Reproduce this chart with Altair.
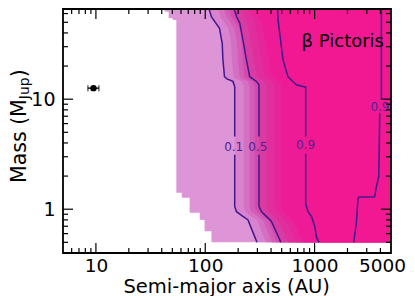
import altair as alt
import pandas as pd

# ---------------- data ----------------
X_DOMAIN = [5, 5000]          # semi-major axis (AU)
Y_DOMAIN = [0.4, 66]          # mass (M_Jup)

X_LABELS = [10, 100, 1000, 5000]
Y_LABELS = [1, 10]
X_MAJOR = [10, 100, 1000]
X_MINOR = [6, 7, 8, 9, 20, 30, 40, 50, 60, 70, 80, 90,
           200, 300, 400, 500, 600, 700, 800, 900, 2000, 3000, 4000]
Y_MAJOR = [1, 10]
Y_MINOR = [0.5, 0.6, 0.7, 0.8, 0.9, 2, 3, 4, 5, 6, 7, 8, 9, 20, 30, 40, 50, 60]

# left edge of the explored region (stepped)
EDGE_A = [114, 114, 98.5, 98.5, 89, 89, 72, 72, 61, 61, 54.4, 54.4, 50.3, 50.3, 46.3, 46.3, 42.5, 42.5]
EDGE_M = [0.5, 0.629, 0.631, 0.799, 0.801, 0.929, 0.931, 1.269, 1.271, 1.409, 1.411,
          52.5, 52.7, 54.4, 54.6, 62.4, 62.6, 80]

# labelled contours
C01_A = [297, 264, 246, 221, 193, 186, 186, 186, 186, 179, 158, 150, 145, 143, 135, 114, 102]
C01_M = [0.5, 0.67, 0.8, 0.86, 0.95, 1.06, 3.12, 4.57, 13, 14.5, 15.3, 16, 23, 32, 44, 56, 80]
C05_A = [490, 479, 431, 402, 362, 326, 310, 310, 310, 310, 294, 255, 238, 221, 207, 193, 173]
C05_M = [0.5, 0.53, 0.67, 0.78, 0.86, 0.95, 1.06, 3.12, 4.57, 13.5, 14.5, 16, 22.8, 34.6, 49, 56.4, 80]
C09_A = [1096, 1039, 1003, 936, 871, 829, 829, 829, 829, 681, 571, 514, 480, 463, 457]
C09_M = [0.5, 0.56, 0.7, 0.86, 0.95, 1.13, 3.2, 4.57, 12.85, 13.5, 16, 22.8, 39.8, 52.6, 80]
C09R_A = [2280, 2412, 2497, 2587, 3548, 3677, 3862, 3944, 4083, 4083]
C09R_M = [0.5, 0.75, 1.26, 1.29, 1.30, 1.6, 1.98, 7.46, 9.86, 80]

# unlabelled filled-contour levels
P0X_M = [0.5, 0.67, 0.8, 0.86, 0.95, 1.06, 13, 14.5, 15.3, 16, 23, 32, 44, 56, 80]
P02_A = [359, 319, 298, 267, 234, 225, 225, 217, 191, 182, 175, 173, 163, 138, 123]
P03_A = [407, 362, 337, 303, 264, 255, 255, 245, 216, 206, 199, 196, 185, 156, 140]
P04_A = [451, 401, 374, 336, 293, 283, 283, 272, 240, 228, 220, 217, 205, 173, 155]
P1X_M = [0.5, 0.53, 0.67, 0.78, 0.86, 0.95, 1.06, 13.5, 14.5, 16, 22.8, 34.6, 49, 56.4, 80]
P06_A = [573, 560, 504, 470, 424, 381, 363, 363, 344, 298, 278, 259, 242, 226, 202]
P07_A = [676, 661, 595, 555, 500, 450, 428, 428, 406, 352, 328, 305, 286, 266, 239]
P08_A = [784, 766, 690, 643, 579, 522, 496, 496, 470, 408, 381, 354, 331, 309, 277]

BAND_COLORS = ["#de95d7", "#d982cd", "#d56fc4", "#d45cb8", "#d64aab",
               "#da3ba2", "#e02e9d", "#e72499", "#ed1c96", "#f21892"]

LABEL_TEXT = ["0.1", "0.5", "0.9", "0.9"]
LABEL_A = [182, 303, 826, 3960]
LABEL_M = [3.65, 3.65, 3.85, 8.57]

PLANET_A = [9.5]
PLANET_M = [12.6]
PLANET_A_LO = [8.45]
PLANET_A_HI = [10.65]

# ---------------- chart ----------------
W, H = 328, 244
FONT = "DejaVu Sans"
LINE_COLOR = "#3f188c"
LABEL_COLOR = "#4f2394"

xs = alt.Scale(type="log", domain=X_DOMAIN, nice=False)
ys = alt.Scale(type="log", domain=Y_DOMAIN, nice=False)
xaxis = alt.Axis(values=X_LABELS, format="d", ticks=False, tickSize=0, domain=False, grid=False,
                 labelFontSize=18.5, labelFont=FONT, labelColor="black", labelPadding=3,
                 labelFlush=False, labelOverlap=False, title=None,
                 labelOffset={"condition": {"test": "datum.value == 5000", "value": -9}, "value": 0})
yaxis = alt.Axis(values=Y_LABELS, format="d", ticks=False, tickSize=0, domain=False, grid=False,
                 labelFontSize=19, labelFont=FONT, labelColor="black", labelPadding=8,
                 labelOverlap=False, title=None)


def X(f):
    return alt.X(f, type="quantitative", scale=xs, axis=xaxis)


def Y(f):
    return alt.Y(f, type="quantitative", scale=ys, axis=yaxis)


layers = []

bands = [(EDGE_A, EDGE_M), (C01_A, C01_M), (P02_A, P0X_M), (P03_A, P0X_M), (P04_A, P0X_M),
         (C05_A, C05_M), (P06_A, P1X_M), (P07_A, P1X_M), (P08_A, P1X_M), (C09_A, C09_M)]
for (ba, bm), col in zip(bands, BAND_COLORS):
    df = pd.DataFrame({"a": ba, "m": bm, "right": X_DOMAIN[1]})
    layers.append(
        alt.Chart(df).mark_area(orient="horizontal", color=col, clip=True, opacity=1)
        .encode(y=Y("m"), x=X("a"), x2="right:Q")
    )

lines = [(C01_A, C01_M, 3.12), (C05_A, C05_M, 3.12), (C09_A, C09_M, 3.2), (C09R_A, C09R_M, 7.46)]
rows = []
for k, (la, lm, gap_lo) in enumerate(lines):
    for i, (a, m) in enumerate(zip(la, lm)):
        rows.append({"a": a, "m": m, "seg": f"{k}-{0 if m <= gap_lo else 1}", "idx": i})
ldf = pd.DataFrame(rows)
layers.append(
    alt.Chart(ldf).mark_line(color=LINE_COLOR, strokeWidth=1.5, clip=True)
    .encode(x=X("a"), y=Y("m"), detail="seg:N", order="idx:Q")
)

lab = pd.DataFrame({"a": LABEL_A, "m": LABEL_M, "t": LABEL_TEXT})
layers.append(
    alt.Chart(lab).mark_text(color=LABEL_COLOR, fontSize=12, font=FONT, align="center", baseline="middle")
    .encode(x=X("a"), y=Y("m"), text="t:N")
)

pl = pd.DataFrame({"a": PLANET_A, "m": PLANET_M, "lo": PLANET_A_LO, "hi": PLANET_A_HI})
layers.append(
    alt.Chart(pl).mark_rule(color="black", strokeWidth=1.3)
    .encode(x=X("lo"), x2="hi:Q", y=Y("m"))
)
caps = pd.DataFrame({"a": PLANET_A_LO + PLANET_A_HI, "m": PLANET_M * 2})
layers.append(
    alt.Chart(caps).mark_tick(orient="vertical", color="black", size=6, thickness=1.3)
    .encode(x=X("a"), y=Y("m"))
)
layers.append(
    alt.Chart(pl).mark_point(filled=True, color="black", size=42, opacity=1)
    .encode(x=X("a"), y=Y("m"))
)

# inward ticks on all four sides
for vals, ln in [(X_MAJOR, 10), (X_MINOR, 5)]:
    d = pd.DataFrame({"v": vals})
    layers.append(alt.Chart(d).mark_rule(color="black", strokeWidth=1.2)
                  .encode(x=X("v"), y=alt.value(H), y2=alt.value(H - ln)))
    layers.append(alt.Chart(d).mark_rule(color="black", strokeWidth=1.2)
                  .encode(x=X("v"), y=alt.value(0), y2=alt.value(ln)))
for vals, ln in [(Y_MAJOR, 10), (Y_MINOR, 5)]:
    d = pd.DataFrame({"v": vals})
    layers.append(alt.Chart(d).mark_rule(color="black", strokeWidth=1.2)
                  .encode(y=Y("v"), x=alt.value(0), x2=alt.value(ln)))
    layers.append(alt.Chart(d).mark_rule(color="black", strokeWidth=1.2)
                  .encode(y=Y("v"), x=alt.value(W), x2=alt.value(W - ln)))

# frame
one = pd.DataFrame({"k": [0]})
layers.append(
    alt.Chart(one).mark_rect(fillOpacity=0, stroke="black", strokeWidth=1.8)
    .encode(x=alt.value(0), x2=alt.value(W), y=alt.value(0), y2=alt.value(H))
)

# texts
layers.append(
    alt.Chart(pd.DataFrame({"t": ["β Pictoris"]}))
    .mark_text(font=FONT, fontSize=18, color="black", align="right", baseline="alphabetic")
    .encode(x=alt.value(321), y=alt.value(37.7), text="t:N")
)
layers.append(
    alt.Chart(pd.DataFrame({"t": ["Semi-major axis (AU)"]}))
    .mark_text(font=FONT, fontSize=19.5, color="black", align="center", baseline="alphabetic")
    .encode(x=alt.value(163.7), y=alt.value(283.5), text="t:N")
)
ytitle = [("Mass (M", 20.5, -37.5, 174.0), ("Jup", 14, -34.3, 90.2), (")", 20.5, -37.5, 68.3)]
for txt, fs, px, py in ytitle:
    layers.append(
        alt.Chart(pd.DataFrame({"t": [txt]}))
        .mark_text(font=FONT, fontSize=fs, color="black", align="left", baseline="alphabetic", angle=270)
        .encode(x=alt.value(px), y=alt.value(py), text="t:N")
    )

chart = alt.layer(*layers).properties(
    width=W, height=H,
    autosize=alt.AutoSizeParams(type="none"),
    padding={"left": 55, "top": 1, "right": 16, "bottom": 46},
).configure_view(stroke=None)

chart.save("out.html", embed_options={"renderer": "svg", "actions": False})
